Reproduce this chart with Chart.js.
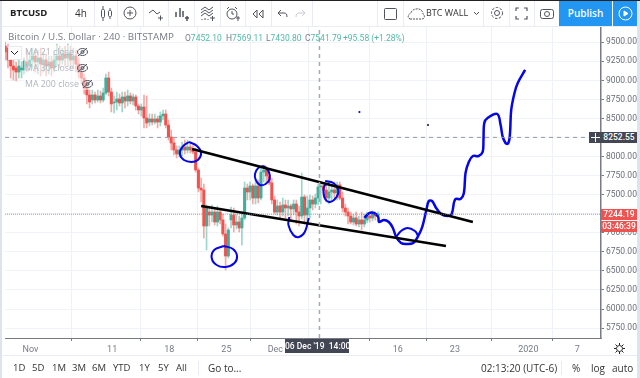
<!DOCTYPE html>
<html>
<head>
<meta charset="utf-8">
<title>BTCUSD</title>
<script src="https://cdn.jsdelivr.net/npm/chart.js@4"></script>
<style>
html, body { margin: 0; padding: 0; background: #fff; overflow: hidden; }
#wrap { position: relative; width: 640px; height: 378px; font-family: "Open Sans", sans-serif; color: #50535e; overflow: hidden; }
#priceChart { position: absolute; left: 0; top: 0; }
.t { position: absolute; white-space: nowrap; font-size: 10px; line-height: 12px; }
.n { font-family: Roboto, sans-serif; font-size: 8.5px; color: #53b9a5; top: 32px; }
.n span { color: #787b86; }
.sep { position: absolute; width: 1px; background: #e9ecf2; }
.box { position: absolute; color: #fff; font-family: Roboto, sans-serif; font-size: 8.5px; line-height: 11px; text-align: center; font-weight: 500; white-space: nowrap; }
svg { position: absolute; fill: none; stroke: #50535e; stroke-width: 1; }
</style>
</head>
<body>
<div id="wrap">
  <canvas id="priceChart" width="640" height="378"></canvas>

  <!-- outer frame -->
  <div style="position:absolute;left:0;top:0;width:640px;height:1px;background:#222"></div>
  <div style="position:absolute;left:0;top:1px;width:2px;height:377px;background:#dfe3ee"></div>
  <div style="position:absolute;left:637px;top:1px;width:3px;height:377px;background:#dfe3ee"></div>
  <div style="position:absolute;left:2px;top:26px;width:635px;height:1px;background:#e9ecf2"></div>
  <div style="position:absolute;left:2px;top:355px;width:635px;height:1px;background:#e9ecf2"></div>

  <!-- top toolbar -->
  <div class="t" style="left:10px;top:7px;font-weight:700;font-size:9.5px;color:#222">BTCUSD</div>
  <div class="t" style="left:75px;top:7px;color:#333">4h</div>
  <div class="sep" style="left:67px;top:1px;height:25px"></div>
  <div class="sep" style="left:94px;top:1px;height:25px"></div>
  <div class="sep" style="left:117px;top:1px;height:25px"></div>
  <div class="sep" style="left:143px;top:1px;height:25px"></div>
  <div class="sep" style="left:168px;top:1px;height:25px"></div>
  <div class="sep" style="left:194px;top:1px;height:25px"></div>
  <div class="sep" style="left:220px;top:1px;height:25px"></div>
  <div class="sep" style="left:245px;top:1px;height:25px"></div>
  <div class="sep" style="left:271px;top:1px;height:25px"></div>
  <div class="sep" style="left:312px;top:1px;height:25px"></div>
  <div class="sep" style="left:377px;top:1px;height:25px"></div>
  <div class="sep" style="left:403px;top:1px;height:25px"></div>
  <div class="sep" style="left:483px;top:1px;height:25px"></div>
  <div class="sep" style="left:509px;top:1px;height:25px"></div>
  <div class="sep" style="left:534px;top:1px;height:25px"></div>

  <svg style="left:100px;top:6px" width="14" height="15"><rect x="1.5" y="3.5" width="3" height="8" rx="1"/><rect x="8.5" y="4.5" width="3" height="6" rx="1"/><path d="M3 0v3M3 12v3M10 2v2M10 11v2"/></svg>
  <svg style="left:123px;top:6px" width="14" height="14"><circle cx="7" cy="7" r="6"/><path d="M7 4v6M4 7h6"/></svg>
  <svg style="left:148px;top:7px" width="15" height="14"><path d="M1 6l4-3 4 4 3-2M10 11h5M12.500 8.500v5"/></svg>
  <svg style="left:174px;top:6px" width="15" height="15"><path d="M2 6v5M6 2v9M9 5v6M11 12h4M13 10v5" stroke-width="1.500"/></svg>
  <svg style="left:200px;top:6px" width="15" height="15"><path d="M1 4l4-3 4 3 4-3M1 7l4-3 4 3 4-3M1 10l4-3 4 3 4-3M2 14v-1M5 14v-2M8 14v-1M10 12h5M12.500 10v5"/></svg>
  <svg style="left:225px;top:6px" width="15" height="15"><circle cx="7" cy="8" r="5"/><path d="M7 5v3h2M2 3l2-2M12 3l-2-2M11 12h4M13 10v5"/></svg>
  <svg style="left:252px;top:9px" width="12" height="10"><path d="M5 1L1 5l4 4zM11 1L7 5l4 4z"/></svg>
  <svg style="left:277px;top:9px" width="11" height="9"><path d="M4 1L1 4l3 3M1 4h6c2 0 3 1 3 4"/></svg>
  <svg style="left:295px;top:9px;stroke:#c8cbd3" width="11" height="9"><path d="M7 1l3 3-3 3M10 4H4C2 4 1 5 1 8"/></svg>
  <svg style="left:384px;top:8px" width="13" height="12"><rect x="0.500" y="0.500" width="12" height="11" rx="1"/></svg>
  <svg style="left:407px;top:7px;stroke-dasharray:2 1" width="18" height="13"><path d="M3 12h12c3 0 3-4 1-5 0-3-3-6-7-5-3 0-5 3-5 4-3 1-4 5-1 6z"/></svg>
  <div class="t" style="left:426px;top:7px;font-size:9px;color:#333">BTC WALL</div>
  <svg style="left:473px;top:11px" width="7" height="5"><path d="M1 1l2.500 2.500L6 1"/></svg>
  <svg style="left:490px;top:6px" width="14" height="14"><circle cx="7" cy="7" r="2.500"/><circle cx="7" cy="7" r="5.500" stroke-dasharray="2.500 1.500"/></svg>
  <svg style="left:515px;top:7px" width="13" height="13"><path d="M1 4V1h3M9 1h3v3M12 9v3H9M4 12H1V9" stroke-width="1.200"/></svg>
  <svg style="left:540px;top:7px" width="14" height="12"><rect x="0.500" y="2.500" width="13" height="9" rx="2"/><circle cx="7" cy="7" r="2.500"/></svg>
  <div style="position:absolute;left:559px;top:1px;width:53px;height:25px;background:#2196f3;color:#fff;font-size:10px;line-height:25px;text-align:center;font-weight:600">Publish</div>
  <div style="position:absolute;left:613px;top:1px;width:24px;height:25px;background:#2196f3"></div>
  <svg style="left:618px;top:6px;stroke:#fff" width="15" height="15"><circle cx="7.500" cy="7.500" r="6.500"/><path d="M6 5l4 2.500-4 2.500z" fill="#fff"/></svg>

  <!-- legend, sits over the candles -->
  <div style="position:absolute;left:24px;top:45px;width:70px;height:45px;background:rgba(255,255,255,0.5)"></div>
  <div class="t" style="left:8px;top:31px;font-size:9.8px;color:#787b86">Bitcoin / U.S. Dollar · 240 · BITSTAMP</div>
  <div class="t n" style="left:185px"><span>O</span>7452.10</div>
  <div class="t n" style="left:226px"><span>H</span>7569.11</div>
  <div class="t n" style="left:266px"><span>L</span>7430.80</div>
  <div class="t n" style="left:305px"><span>C</span>7541.79</div>
  <div class="t n" style="left:343px">+95.58 (+1.28%)</div>
  <div style="position:absolute;left:8px;top:46px;width:12px;height:12px;border:1px solid #e6e8ee;background:#fff"></div>
  <svg style="left:10px;top:50px;stroke:#222" width="9" height="6"><path d="M1 1l3.500 3.500L8 1"/></svg>
  <div class="t" style="left:25px;top:46px;font-size:8.8px;color:#b2b5be">MA 21 close</div>
  <div class="t" style="left:25px;top:62px;font-size:8.8px;color:#b2b5be">MA 30 close</div>
  <div class="t" style="left:25px;top:78px;font-size:8.8px;color:#b2b5be">MA 200 close</div>
  <svg style="left:77px;top:47px" width="11" height="10"><ellipse cx="5.500" cy="5" rx="5" ry="3.500"/><circle cx="5.500" cy="5" r="1.500"/><path d="M1 9L10 1"/></svg>
  <svg style="left:77px;top:63px" width="11" height="10"><ellipse cx="5.500" cy="5" rx="5" ry="3.500"/><circle cx="5.500" cy="5" r="1.500"/><path d="M1 9L10 1"/></svg>
  <svg style="left:82px;top:79px" width="11" height="10"><ellipse cx="5.500" cy="5" rx="5" ry="3.500"/><circle cx="5.500" cy="5" r="1.500"/><path d="M1 9L10 1"/></svg>

  <!-- price and crosshair labels -->
  <div class="box" style="left:589px;top:132px;width:48px;height:11px;background:#434753"></div>
  <svg style="left:591px;top:133px;stroke:#fff" width="9" height="9"><path d="M4.500 0v9M0 4.500h9"/></svg>
  <div class="box" style="left:601px;top:132px;width:36px;height:11px;background:#434753">8252.55</div>
  <div class="box" style="left:601px;top:209px;width:36px;height:11px;background:#ef5350">7244.19</div>
  <div class="box" style="left:601px;top:221px;width:36px;height:11px;background:#ef5350">03:46:39</div>
  <div class="box" style="left:285px;top:339px;width:64px;height:14px;line-height:14px;background:#434753">06 Dec '19&nbsp;&nbsp;14:00</div>
  <svg style="left:614px;top:343px;stroke:#222" width="11" height="11"><circle cx="5.500" cy="5.500" r="3"/><path d="M5.500 0v2M5.500 9v2M0 5.500h2M9 5.500h2M1.500 1.500l1.500 1.500M8 8l1.500 1.500M1.500 9.500L3 8M8 3l1.500-1.500"/></svg>

  <!-- bottom toolbar -->
  <div class="t" style="left:13px;top:362px;font-size:9.5px;color:#333">1D</div>
  <div class="t" style="left:32px;top:362px;font-size:9.5px;color:#333">5D</div>
  <div class="t" style="left:52px;top:362px;font-size:9.5px;color:#333">1M</div>
  <div class="t" style="left:72px;top:362px;font-size:9.5px;color:#333">3M</div>
  <div class="t" style="left:92px;top:362px;font-size:9.5px;color:#333">6M</div>
  <div class="t" style="left:113px;top:362px;font-size:9.5px;color:#333">YTD</div>
  <div class="t" style="left:139px;top:362px;font-size:9.5px;color:#333">1Y</div>
  <div class="t" style="left:158px;top:362px;font-size:9.5px;color:#333">5Y</div>
  <div class="t" style="left:176px;top:362px;font-size:9.5px;color:#333">All</div>
  <div class="sep" style="left:198px;top:361px;height:14px"></div>
  <div class="t" style="left:208px;top:362px;color:#333">Go to...</div>
  <div class="t" style="left:481px;top:362px;color:#333">02:13:20 (UTC-6)</div>
  <div class="sep" style="left:561px;top:361px;height:14px"></div>
  <div class="t" style="left:572px;top:362px;color:#333">%</div>
  <div class="t" style="left:591px;top:362px;color:#333">log</div>
  <div class="t" style="left:612px;top:362px;color:#333">auto</div>
</div>

<script>
// days are counted from 1 Nov 2019
const tickDays = [0, 10, 17, 24, 30, 38, 45, 52, 61, 67];
const tickLabels = ['Nov', '11', '18', '25', 'Dec', '', '16', '23', '2020', '7'];

// 8 hour candles
const firstCandleDay = -3.1;
const candleStep = 1 / 3;
const candleOpen = [
    9451,9425,9268,9189,9163,9110,9137,9137,9242,9189,
    9268,9320,9242,9294,9215,9268,9189,9242,9163,9268,
    9320,9268,9347,9294,9347,9268,9320,9215,9110,9032,
    8900,8809,8743,8809,8743,8796,8743,8835,9032,8848,
    8704,8717,8756,8704,8782,8730,8796,8730,8782,8664,
    8612,8651,8507,8454,8494,8454,8494,8454,8533,8559,
    8415,8258,8179,8087,8035,8087,8126,8087,8126,8087,
    8061,7825,7588,7562,7090,7273,7234,7273,7142,7273,
    7169,6985,6696,7169,7234,7103,7142,7064,7195,7588,
    7536,7615,7457,7615,7457,7798,7825,7746,7654,7431,
    7273,7352,7273,7365,7326,7352,7313,7378,7273,7221,
    7470,7234,7326,7431,7378,7457,7602,7615,7562,7457,
    7536,7562,7523,7628,7457,7326,7273,7221,7142,7195,
    7116,7169,7116,7169,7221,7195,7247,7221
];
const candleClose = [
    9373,9268,9189,9137,9110,9189,9163,9255,9189,9268,
    9320,9242,9294,9215,9268,9189,9242,9163,9268,9320,
    9268,9347,9294,9347,9268,9320,9215,9110,9032,8900,
    8809,8717,8809,8743,8796,8743,8835,9032,8848,8691,
    8717,8756,8704,8782,8730,8796,8730,8782,8664,8612,
    8651,8507,8441,8494,8454,8494,8454,8533,8559,8415,
    8258,8179,8087,8035,8087,8126,8087,8126,8087,8061,
    7825,7588,7562,7090,7326,7234,7273,7142,7273,7169,
    6985,6696,7037,7234,7103,7142,7064,7195,7588,7536,
    7615,7457,7615,7457,7798,7825,7746,7654,7431,7273,
    7352,7273,7365,7326,7352,7313,7378,7273,7221,7470,
    7234,7326,7431,7378,7457,7602,7615,7562,7457,7536,
    7562,7523,7628,7457,7326,7273,7221,7142,7195,7116,
    7169,7116,7169,7221,7195,7247,7221,7247
];
const candleHigh = [
    9504,9478,9373,9268,9242,9268,9242,9294,9399,9373,
    9425,9399,9399,9425,9373,9347,9320,9320,9347,9478,
    9451,9425,9451,9478,9451,9425,9399,9294,9189,9084,
    9005,8874,8874,8848,8874,8861,8900,9084,9110,8900,
    8796,8848,8822,8848,8848,8874,8835,8822,8809,8691,
    8691,8809,8796,8559,8559,8559,8533,8586,8612,8612,
    8481,8349,8244,8140,8140,8192,8218,8218,8166,8140,
    8113,7851,7720,7641,7365,7352,7365,7326,7352,7326,
    7247,7116,7064,7339,7326,7247,7221,7273,7667,7641,
    7667,7641,7667,7693,7851,7877,7877,7825,7720,7483,
    7431,7405,7457,7431,7431,7378,7431,7431,7352,7785,
    7497,7483,7497,7483,7510,7641,7641,7641,7615,7615,
    7641,7667,7667,7667,7536,7378,7326,7273,7247,7273,
    7221,7273,7247,7273,7273,7287,7273,7273
];
const candleLow = [
    9268,9163,9032,9005,8992,9032,9032,9084,9110,9137,
    9163,9110,9084,9058,9110,9058,9084,9058,9110,9189,
    9163,9215,9189,9189,9163,9163,9110,9032,8953,8822,
    8691,8638,8691,8704,8717,8704,8717,8809,8796,8586,
    8572,8612,8664,8586,8638,8664,8691,8677,8612,8559,
    8533,8376,8376,8402,8415,8428,8376,8402,8481,8376,
    8218,8087,8021,7982,7995,8008,8035,8048,8048,8035,
    7798,7536,7405,6932,6775,7090,7142,7103,7090,7116,
    6959,6513,6670,7064,7011,7051,7011,6841,7169,7431,
    7431,7378,7378,7392,7431,7667,7641,7628,7378,7247,
    7234,7195,7221,7195,7221,7169,7234,7116,7090,7182,
    7116,7103,7195,7300,7326,7365,7378,7483,7405,7378,
    7431,7457,7431,7431,7273,7221,7116,7116,7103,7090,
    7077,7037,7077,7129,7142,7156,7169,7195
];

// hand drawn trend lines
const upperTrendDays = [19.8, 54.2];
const upperTrendPrices = [8100, 7142];
const lowerTrendDays = [20.9, 50.9];
const lowerTrendPrices = [7352, 6827];

// hand drawn projected path
const pathDays = [40.9, 41.5, 42.1, 42.6, 42.7, 43.3, 43.9, 44.4, 44.8, 45.4, 46.0, 46.9, 47.5, 48.0, 48.5, 48.8, 49.2, 49.7, 50.3, 51.1, 51.6, 51.9, 52.1, 52.7, 53.1, 53.3, 53.7, 54.2, 54.9, 55.4, 55.5, 55.6, 56.0, 57.2, 57.6, 57.9, 58.4, 58.7, 58.9, 59.3, 59.7, 60.6];
const pathPrices = [7195, 7260, 7260, 7208, 7142, 7169, 7142, 7064, 6946, 6867, 6854, 6867, 6959, 7077, 7300, 7418, 7418, 7326, 7247, 7221, 7247, 7405, 7444, 7444, 7523, 7785, 7930, 8008, 8008, 8061, 8218, 8441, 8507, 8559, 8415, 8244, 8166, 8244, 8612, 8835, 8966, 9137];

// hand drawn circles
const circleADays = [19.4, 20.4, 20.9, 20.5, 19.7, 18.8, 18.3, 18.6, 19.4];
const circleAPrices = [8192, 8140, 8048, 7956, 7930, 7956, 8035, 8126, 8192];
const circleBDays = [28.6, 29.2, 29.3, 28.8, 28.1, 27.6, 27.5, 27.9, 28.6];
const circleBPrices = [7877, 7798, 7707, 7641, 7628, 7693, 7772, 7851, 7877];
const circleCDays = [23.7, 24.8, 25.3, 25.0, 23.9, 22.8, 22.2, 22.5, 23.7];
const circleCPrices = [6827, 6788, 6696, 6605, 6552, 6578, 6670, 6775, 6827];
const circleDDays = [31.7, 31.6, 32.2, 32.9, 33.6, 34.1];
const circleDPrices = [7208, 7103, 6972, 6946, 7011, 7195];
const circleEDays = [36.1, 37.1, 37.7, 37.5, 36.7, 36.1, 35.9, 36.0, 36.6];
const circleEPrices = [7680, 7654, 7562, 7470, 7405, 7444, 7536, 7615, 7654];
const circleFDays = [44.8, 45.4, 46.2, 47.1, 47.5];
const circleFPrices = [6946, 7024, 7064, 7024, 6959];

const strayDays = [40.3, 48.7];
const strayPrices = [8585, 8415];

const lastPrice = 7244.19;
const crosshairPrice = 8252.55;
const crosshairDay = 35.4;

const dayMin = -3.13;
const dayMax = 69.9;
const priceMin = 5620;
const priceMax = 9714;

const upColor = '#42ad9b';
const downColor = '#f0524f';
const upWick = '#9ad6ca';
const downWick = '#f5a8a3';
const blue = '#0505e6';

function toPoints(xs, ys) {
    return xs.map((x, i) => ({ x: x, y: ys[i] }));
}

function lineDataset(xs, ys, color, width, tension, dash) {
    return {
        type: 'line',
        data: toPoints(xs, ys),
        borderColor: color,
        borderWidth: width,
        borderDash: dash || [],
        tension: tension,
        pointRadius: 0,
        fill: false,
        order: 1
    };
}

document.addEventListener('DOMContentLoaded', function() {
    createPriceChart();
});

function createPriceChart() {
    const ctx = document.getElementById('priceChart');
    const candleDays = candleOpen.map((v, i) => firstCandleDay + i * candleStep);
    const isUp = candleOpen.map((v, i) => candleClose[i] >= v);

    new Chart(ctx, {
        type: 'bar',
        data: {
            datasets: [
                lineDataset([dayMin, dayMax], [lastPrice, lastPrice], 'rgba(239,83,80,0.75)', 1, 0, [1, 1]),
                lineDataset([dayMin, dayMax], [crosshairPrice, crosshairPrice], '#9598a1', 1, 0, [4, 4]),
                lineDataset([crosshairDay, crosshairDay], [priceMin, priceMax], '#a8abb3', 1.5, 0, [4, 4]),
                lineDataset(upperTrendDays, upperTrendPrices, '#000000', 2.7, 0),
                lineDataset(lowerTrendDays, lowerTrendPrices, '#000000', 2.7, 0),
                lineDataset(pathDays, pathPrices, blue, 2.5, 0.35),
                lineDataset(circleADays, circleAPrices, blue, 2, 0.4),
                lineDataset(circleBDays, circleBPrices, blue, 2, 0.4),
                lineDataset(circleCDays, circleCPrices, blue, 2, 0.4),
                lineDataset(circleDDays, circleDPrices, blue, 2, 0.4),
                lineDataset(circleEDays, circleEPrices, blue, 2, 0.4),
                lineDataset(circleFDays, circleFPrices, blue, 2, 0.4),
                {
                    type: 'scatter',
                    data: toPoints(strayDays, strayPrices),
                    backgroundColor: [blue, '#222222'],
                    pointRadius: 1,
                    order: 1
                },
                {
                    label: 'Wick',
                    data: candleDays.map((d, i) => ({ x: d, y: [candleLow[i], candleHigh[i]] })),
                    backgroundColor: isUp.map(u => u ? upWick : downWick),
                    barThickness: 1,
                    grouped: false,
                    order: 3
                },
                {
                    label: 'Body',
                    data: candleDays.map((d, i) => ({ x: d, y: [candleOpen[i], candleClose[i]] })),
                    backgroundColor: isUp.map(u => u ? upColor : downColor),
                    barThickness: 2.4,
                    grouped: false,
                    order: 2
                }
            ]
        },
        options: {
            responsive: false,
            animation: false,
            layout: {
                padding: { left: 2, top: 26, right: 0, bottom: 20 }
            },
            plugins: {
                legend: { display: false },
                tooltip: { enabled: false }
            },
            scales: {
                x: {
                    type: 'linear',
                    offset: false,
                    min: dayMin,
                    max: dayMax,
                    afterBuildTicks: axis => {
                        axis.ticks = tickDays.map(v => ({ value: v }));
                    },
                    afterFit: axis => {
                        axis.height = 20;
                    },
                    grid: { color: '#eef2f8', tickColor: '#787b86', tickLength: 3 },
                    border: { color: '#787b86', width: 1 },
                    ticks: {
                        autoSkip: false,
                        maxRotation: 0,
                        padding: 3,
                        color: '#787b86',
                        font: { family: 'Roboto', size: 9 },
                        callback: (value, index) => tickLabels[index]
                    }
                },
                y: {
                    position: 'right',
                    min: priceMin,
                    max: priceMax,
                    afterFit: axis => {
                        axis.width = 39;
                    },
                    grid: { color: '#f0f3f8', tickColor: '#787b86', tickLength: 3 },
                    border: { color: '#787b86', width: 1.5 },
                    ticks: {
                        stepSize: 250,
                        includeBounds: false,
                        autoSkip: false,
                        padding: 2,
                        color: '#6a6d78',
                        font: { family: 'Roboto', size: 8.5 },
                        callback: value => value.toFixed(2)
                    }
                }
            }
        }
    });
}
</script>
</body>
</html>
